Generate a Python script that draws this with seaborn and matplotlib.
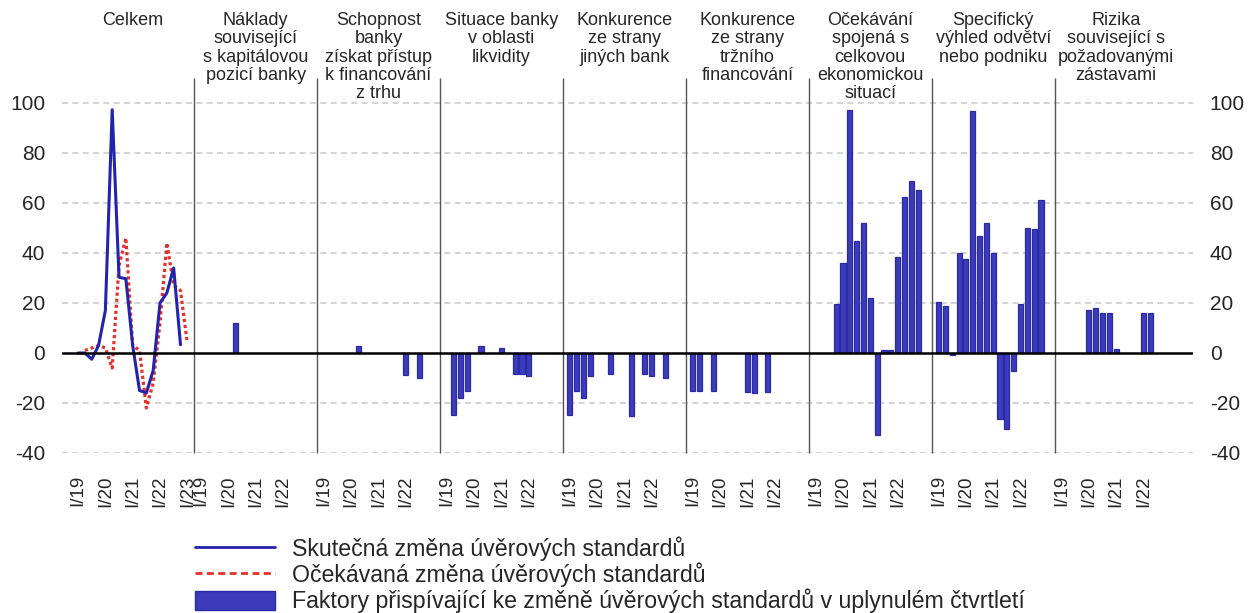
import numpy as np
import pandas as pd
import matplotlib
matplotlib.use("Agg")
import matplotlib.pyplot as plt
import seaborn as sns
from matplotlib.lines import Line2D
from matplotlib.patches import Patch
from matplotlib.transforms import blended_transform_factory

sns.set_style("white")
plt.rcParams["font.family"] = ["Liberation Sans", "DejaVu Sans"]

# Panels
panel_titles = [
    "Celkem",
    "Náklady\nsouvisející\ns kapitálovou\npozicí banky",
    "Schopnost\nbanky\nzískat přístup\nk financování\nz trhu",
    "Situace banky\nv oblasti\nlikvidity",
    "Konkurence\nze strany\njiných bank",
    "Konkurence\nze strany\ntržního\nfinancování",
    "Očekávání\nspojená s\ncelkovou\nekonomickou\nsituací",
    "Specifický\nvýhled odvětví\nnebo podniku",
    "Rizika\nsouvisející s\npožadovanými\nzástavami",
]

# Quarters I/19 .. I/23
quarters = ["I/19", "II/19", "III/19", "IV/19", "I/20", "II/20", "III/20", "IV/20",
            "I/21", "II/21", "III/21", "IV/21", "I/22", "II/22", "III/22", "IV/22", "I/23"]

N = np.nan
# Celkem (lines)
actual_total = [0, 0, -2.5, 3, 17, 97.3, 30.3, 29.7, 3, -15, -16, -7, 20, 24, 34, 3.3, N]
expected_total = [N, 1, 2, 3, 2, -6, 35, 46, 3, 1, -22, -12, 12, 44, 27, 25, 4]

# Factors (bars), I/19 .. IV/22
naklady = [N, N, N, N, N, 12, N, N, N, N, N, N, N, N, N, N]
schopnost = [N, N, N, N, N, 3, N, N, N, N, N, N, -8.7, N, -10, N]
likvidita = [N, -24.7, -18, -15.3, N, 3, N, N, 2, N, -8.3, -8.4, -9, N, N, N]
jine_banky = [-24.7, -15, -18, -9, N, N, -8.3, N, N, -25, N, -8.4, -9, N, -10, N]
trzni = [-15, -15, N, -15, N, N, N, N, -15.5, -16, N, -15.5, N, N, N, N]
ekonomika = [N, N, N, 19.6, 36, 97.3, 45, 52, 22, -32.7, 1.3, 1.3, 38.4, 62.3, 68.7, 65.3]
odvetvi = [20.4, 18.9, -0.7, 40, 37.6, 96.7, 47, 52, 40, -26.3, -30.3, -7, 19.7, 50, 49.6, 61.3]
zastavy = [N, N, N, N, 17.3, 18, 16, 16, 1.6, N, N, N, 16, 16, N, N]

factors = [naklady, schopnost, likvidita, jine_banky, trzni, ekonomika, odvetvi, zastavy]

legend_labels = [
    "Skutečná změna úvěrových standardů",
    "Očekávaná změna úvěrových standardů",
    "Faktory přispívající ke změně úvěrových standardů v uplynulém čtvrtletí",
]

BLUE_LINE = "#2323AE"
RED = "#E8302A"
BAR = "#3C3CBA"
BAR_EDGE = "#2A2AA6"
GRID = "#CCCCCC"

SLOTS = 18  # 17 quarters + one gap per panel

# build table of bars
rows = []
for p, vals in enumerate(factors, start=1):
    for i, v in enumerate(vals):
        if not np.isnan(v):
            rows.append({"pos": p * SLOTS + i, "value": v})
bars_df = pd.DataFrame(rows)

lines_df = pd.DataFrame({
    "pos": np.arange(len(quarters)),
    "actual": actual_total,
    "expected": expected_total,
})

fig = plt.figure(figsize=(12.5, 6.13), dpi=100)
ax = fig.add_axes([62 / 1250, 1 - 453 / 613, (1193 - 62) / 1250, 380 / 613])

# grid
for y in [-40, -20, 20, 40, 60, 80, 100]:
    ax.axhline(y, color=GRID, lw=1.2, linestyle=(0, (3.6, 2.6)), zorder=0)

sns.barplot(data=bars_df, x="pos", y="value", native_scale=True, width=0.75,
            color=BAR, edgecolor=BAR_EDGE, linewidth=0.9, saturation=1,
            errorbar=None, ax=ax, zorder=2)

sns.lineplot(data=lines_df, x="pos", y="expected", color=RED, lw=2.3,
             linestyle=(0, (1.0, 0.9)), dash_capstyle="butt", ax=ax, zorder=3)
sns.lineplot(data=lines_df, x="pos", y="actual", color=BLUE_LINE, lw=2.2,
             ax=ax, zorder=4)

ax.axhline(0, color="black", lw=1.8, zorder=5)

# panel separators
for p in range(1, len(panel_titles)):
    ax.vlines(p * SLOTS - 1, -40, 110, color="#555555", lw=1.0, zorder=1, clip_on=False)

ax.set_xlim(-2.35, 163.25)
ax.set_ylim(-40, 112)

# ticks
tick_pos, tick_lab = [], []
for p in range(len(panel_titles)):
    last = 16 if p == 0 else 12
    for i in range(0, last + 1, 4):
        tick_pos.append(p * SLOTS + i)
        tick_lab.append(quarters[i])
ax.set_xticks(tick_pos)
ax.set_xticklabels(tick_lab, rotation=90, fontsize=13.5)
ax.set_yticks(range(-40, 101, 20))
ax.set_yticklabels([str(v) for v in range(-40, 101, 20)], fontsize=15)
ax.tick_params(axis="x", length=0, pad=16)
ax.tick_params(axis="y", length=0, pad=12, labelright=True)
ax.set_xlabel("")
ax.set_ylabel("")
for s in ax.spines.values():
    s.set_visible(False)

# panel titles
tr = blended_transform_factory(ax.transData, fig.transFigure)
for p, title in enumerate(panel_titles):
    ax.text(p * SLOTS + 8, 1 - 12 / 613, title, transform=tr, ha="center", va="top",
            fontsize=13, linespacing=1.1)

handles = [
    Line2D([], [], color=BLUE_LINE, lw=2),
    Line2D([], [], color=RED, lw=2, linestyle=(0, (2.5, 1.6))),
    Patch(facecolor=BAR, edgecolor=BAR_EDGE, linewidth=1),
]
fig.legend(handles, legend_labels, loc="upper left",
           bbox_to_anchor=(195 / 1250, 1 - 536 / 613), frameon=False,
           fontsize=16.7, handlelength=3.45, handleheight=0.92, handletextpad=0.75,
           labelspacing=0.08, borderpad=0, borderaxespad=0)

fig.savefig("out.png", dpi=100)
